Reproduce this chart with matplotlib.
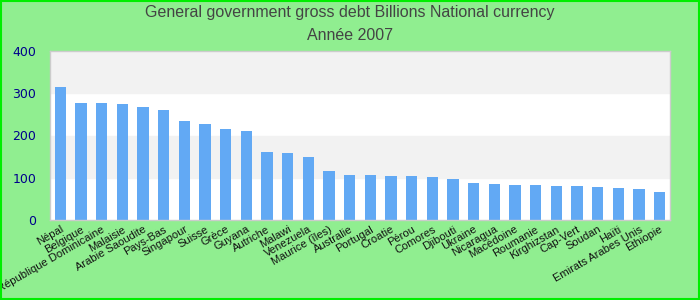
import matplotlib
matplotlib.use("Agg")
import matplotlib.pyplot as plt
from matplotlib.patches import Rectangle

countries = ["Népal", "Belgique", "République Dominicaine", "Malaisie", "Arabie Saoudite",
             "Pays-Bas", "Singapour", "Suisse", "Grèce", "Guyana", "Autriche", "Malawi",
             "Venezuela", "Maurice (îles)", "Australie", "Portugal", "Croatie", "Pérou",
             "Comores", "Djibouti", "Ukraine", "Nicaragua", "Macédoine", "Roumanie",
             "Kirghizstan", "Cap-Vert", "Soudan", "Haïti", "Emirats Arabes Unis", "Ethiopie"]
values = [315, 277, 277, 274.5, 267.5, 260.5, 234, 227, 215.5, 210.5, 161, 158.5,
          149, 116, 106.5, 106.5, 104, 104, 102, 97, 87.5, 85, 83, 83,
          80.5, 80.5, 78, 75.5, 73.5, 66.5]
yticks = [0, 100, 200, 300, 400]

fig = plt.figure(figsize=(7, 3), dpi=100, facecolor="#90ee90")
fig.patches.append(Rectangle((0.001, 0.002), 0.997, 0.995, transform=fig.transFigure,
                             fill=False, edgecolor="#00ee00", linewidth=1.5))
ax = fig.add_axes([50/700, 80/300, 620/700, 169/300])
ax.set_facecolor("white")
for lo, hi in [(100, 200), (300, 400)]:
    ax.axhspan(lo, hi, color="#f2f2f2", zorder=0)

x = list(range(len(countries)))
ax.bar(x, values, width=0.55, color="#62a9f4", zorder=2)
ax.set_xlim(-0.5, len(countries) - 0.5)
ax.set_ylim(0, 400)
ax.set_yticks(yticks)
ax.set_yticklabels([str(t) for t in yticks], color="#00008b", fontsize=9, family="DejaVu Sans")
ax.tick_params(axis="y", length=0, pad=10)
ax.tick_params(axis="x", length=0, pad=3)
ax.set_xticks(x)
ax.set_xticklabels(countries, rotation=30, ha="right", va="top", rotation_mode="anchor",
                   fontsize=8, family="Liberation Sans", color="#111111")
for s in ax.spines.values():
    s.set_color("#cccccc")
    s.set_linewidth(1)

fig.text(0.5, 1 - 13/300, "General government gross debt Billions National currency",
         ha="center", va="center", fontsize=11.5, color="#444444", family="Liberation Sans")
fig.text(0.5, 1 - 36/300, "Année 2007", ha="center", va="center", fontsize=11.5,
         color="#444444", family="Liberation Sans")

fig.savefig("out.png", dpi=100, facecolor=fig.get_facecolor())
